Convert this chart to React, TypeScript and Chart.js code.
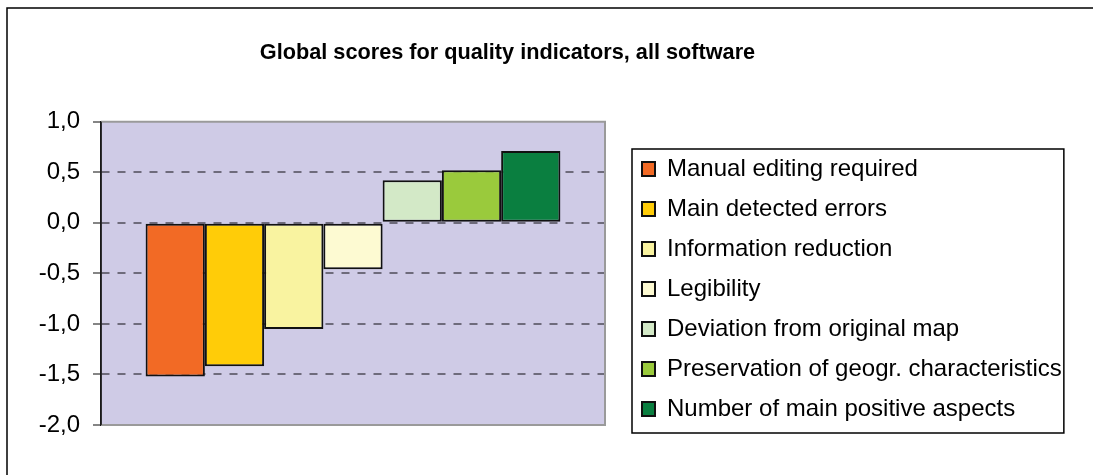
import React, { useEffect, useRef } from "react";
import { Chart, registerables } from "chart.js";

Chart.register(...registerables);

const categories = [""];
const seriesLabels = [
  "Manual editing required",
  "Main detected errors",
  "Information reduction",
  "Legibility",
  "Deviation from original map",
  "Preservation of geogr. characteristics",
  "Number of main positive aspects",
];
const seriesValues = [-1.52, -1.42, -1.05, -0.46, 0.42, 0.52, 0.71];
const seriesColors = ["#F26A25", "#FFCC08", "#F9F3A0", "#FDFAD2", "#D3E9C7", "#9ACA3C", "#0A7F40"];
const yMin = -2;
const yMax = 1;
const yStep = 0.5;
const titleText = "Global scores for quality indicators, all software";

const FONT = "'Liberation Sans', Arial, sans-serif";

const decorPlugin = {
  id: "decor",
  beforeDraw(chart: any) {
    const { ctx, chartArea } = chart;
    ctx.save();
    ctx.fillStyle = "#CFCBE6";
    ctx.fillRect(chartArea.left, chartArea.top, chartArea.right - chartArea.left, chartArea.bottom - chartArea.top);
    ctx.restore();
  },
  beforeDatasetsDraw(chart: any) {
    const { ctx, chartArea } = chart;
    ctx.save();
    ctx.strokeStyle = "#9a9a9a";
    ctx.lineWidth = 2;
    ctx.beginPath();
    ctx.moveTo(chartArea.left, chartArea.top);
    ctx.lineTo(chartArea.right, chartArea.top);
    ctx.lineTo(chartArea.right, chartArea.bottom);
    ctx.lineTo(chartArea.left, chartArea.bottom);
    ctx.stroke();
    ctx.strokeStyle = "#1a1a1a";
    ctx.lineWidth = 1.5;
    ctx.beginPath();
    ctx.moveTo(chartArea.left, chartArea.top);
    ctx.lineTo(chartArea.left, chartArea.bottom);
    ctx.stroke();
    ctx.restore();
  },
  afterDraw(chart: any) {
    const { ctx } = chart;
    ctx.save();
    ctx.strokeStyle = "#000";
    ctx.lineWidth = 1.5;
    ctx.beginPath();
    ctx.moveTo(7, chart.height);
    ctx.lineTo(7, 8);
    ctx.lineTo(chart.width, 8);
    ctx.stroke();
    const lg = chart.legend;
    const boxes = lg && lg.legendHitBoxes;
    if (boxes && boxes.length) {
      const first = boxes[0];
      const last = boxes[boxes.length - 1];
      const top = first.top + first.height / 2 - 20;
      const bottom = last.top + last.height / 2 + 24;
      const left = first.left - 10;
      let right = 0;
      for (const b of boxes) right = Math.max(right, b.left + b.width);
      right += 2;
      ctx.strokeStyle = "#000";
      ctx.lineWidth = 1.5;
      ctx.strokeRect(left, top, right - left, bottom - top);
    }
    ctx.restore();
  },
};

export default function App() {
  const ref = useRef<HTMLCanvasElement | null>(null);

  useEffect(() => {
    if (!ref.current) return;
    Chart.defaults.font.family = FONT;
    Chart.defaults.color = "#000";
    const chart = new Chart(ref.current, {
      type: "bar",
      data: {
        labels: categories,
        datasets: seriesLabels.map((label, i) => ({
          label,
          data: [seriesValues[i]],
          backgroundColor: seriesColors[i],
          borderColor: "#111",
          borderWidth: 2,
          borderSkipped: false,
          barPercentage: 1,
          categoryPercentage: 0.823,
          yAxisID: "y",
        })),
      },
      options: {
        animation: false,
        responsive: false,
        devicePixelRatio: 1,
        layout: { padding: { left: -49, top: 0, right: 29, bottom: 38 } },
        plugins: {
          title: {
            display: true,
            text: titleText,
            color: "#000",
            font: { family: FONT, size: 21.7, weight: "bold", lineHeight: 1.2 },
            padding: { top: 40, bottom: 55.6 },
          },
          legend: {
            display: true,
            position: "right",
            align: "end",
            maxWidth: 438,
            labels: {
              color: "#000",
              font: { family: FONT, size: 24 },
              boxWidth: 13,
              boxHeight: 14,
              padding: 16,
            },
          },
          tooltip: { enabled: false },
        },
        scales: {
          x: {
            type: "category",
            display: true,
            grid: { display: false },
            border: { display: false },
            ticks: { display: false },
            afterFit(scale: any) {
              scale.height = 12;
            },
          },
          y: {
            type: "linear",
            position: "left",
            min: yMin,
            max: yMax,
            ticks: {
              stepSize: yStep,
              padding: 13,
              color: "#000",
              font: { family: FONT, size: 24 },
              callback: (v: any) => Number(v).toFixed(1).replace(".", ","),
            },
            grid: {
              color: (c: any) =>
                c.tick && (c.tick.value === yMax || c.tick.value === yMin) ? "rgba(0,0,0,0)" : "#6e6b7b",
              lineWidth: 2,
              tickLength: 8,
              tickColor: "#858585",
              tickWidth: 2,
            },
            border: { display: true, color: "#1a1a1a", width: 1.5, dash: [8, 8] },
            afterFit(scale: any) {
              scale.width = 150;
            },
          },
          yR: {
            type: "linear",
            position: "right",
            display: true,
            grid: { display: false },
            border: { display: false },
            ticks: { display: false },
            afterFit(scale: any) {
              scale.width = 21;
            },
          },
        },
      } as any,
      plugins: [decorPlugin],
    });
    return () => chart.destroy();
  }, []);

  return (
    <div style={{ position: "fixed", left: 0, top: 0, width: 1093, height: 475, background: "#fff" }}>
      <canvas ref={ref} width={1093} height={475} style={{ display: "block", width: 1093, height: 475 }} />
    </div>
  );
}
